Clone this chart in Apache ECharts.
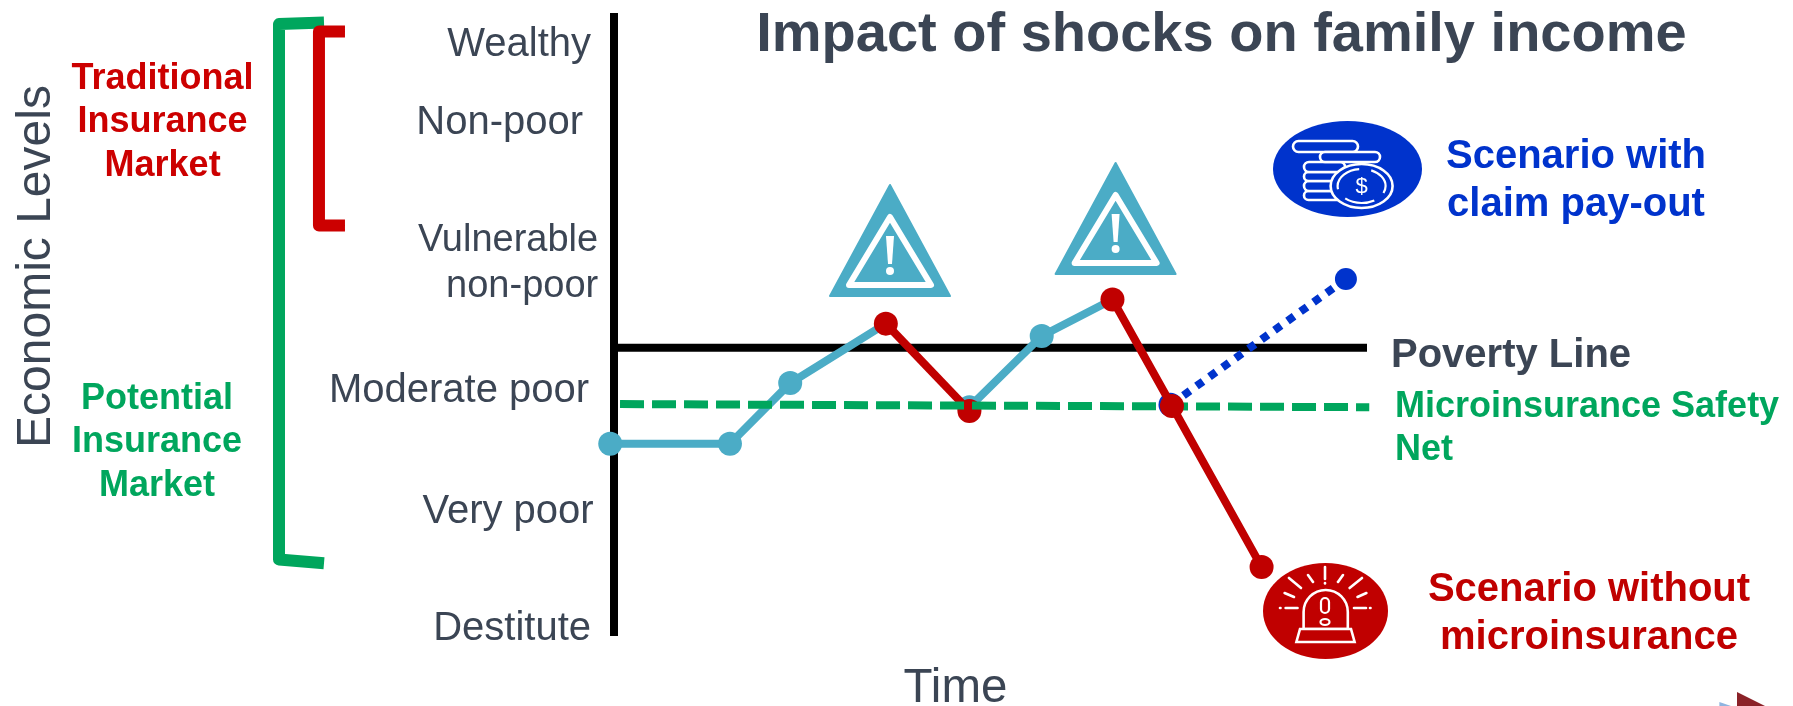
<!DOCTYPE html>
<html><head><meta charset="utf-8">
<style>html,body{margin:0;padding:0;background:#fff}#c{width:1793px;height:706px}</style>
<script src="https://cdn.jsdelivr.net/npm/echarts@6/dist/echarts.min.js"></script>
</head><body><div id="c"></div>
<script>
// Time (0-100) vs. economic level (0-100)
const beforeShock1 = [[-0.5,30.9],[15.4,30.9],[23.4,40.7],[36.1,50.3]];
const shock1 = [[36.1,50.3],[47.2,36.2]];
const beforeShock2 = [[47.2,36.8],[56.8,48.3],[66.2,54.2]];
const shock2 = [[66.2,54.2],[74.1,37],[86,11]];
const withPayout = [[73.9,37.2],[97.2,57.5]];
const povertyLine = [[0,46.4],[100,46.4]];
const safetyNet = [[0.8,37.3],[100.3,36.8]];
const levelNames = ['Wealthy','Non-poor','Vulnerable','non-poor','Moderate poor','Very poor','Destitute'];
const levelValues = [95.35,82.65,63.7,56.3,39.5,19.85,1.05];
const levelX = [-3.05,-4.1,-2.1,-2.1,-3.3,-2.7,-3.05];
const levelSize = [40,40,38,38,40,40,40];
// brackets use their own small grid: 0-100 across the strip left of the levels
const tradBracket = [[83.3,97.5],[54.4,97.5],[54.4,66.15],[83.3,66.15]];
const potentialBracket = [[60,98.95],[10,98.7],[10,12.2],[60,11.6]];

const DARK='#3b4554', TEAL='#4bacc6', RED='#c00000', BLUE='#0033cc', GREEN='#00a65d', TRAD='#cc0000';
const F='"Liberation Sans",Arial,sans-serif';
const DY=3.4;
const txt=(x,y,t,size,color,bold,align,lh,extra)=>Object.assign({type:'text',x,y:y+DY,silent:true,z:50,style:{text:t,font:(bold?'bold ':'')+size+'px '+F,fill:color,align:align||'center',verticalAlign:'middle',lineHeight:lh||size*1.2}},extra||{});
const seg=(pts)=>({type:'polyline',silent:true,z:60,shape:{points:pts},style:{stroke:'#fff',lineWidth:2.6,fill:null,lineCap:'round',lineJoin:'round'}});

function warning(dx,dy){
  return {type:'group',x:dx,y:dy,z:40,silent:true,children:[
    {type:'polygon',shape:{points:[[890,185],[950,296],[830,296]]},style:{fill:TEAL,stroke:TEAL,lineWidth:2,lineJoin:'round'}},
    {type:'polygon',shape:{points:[[890,217],[931,285],[849,285]]},style:{fill:TEAL,stroke:'#fff',lineWidth:6,lineJoin:'round'}},
    {type:'polygon',shape:{points:[[886,236],[894,236],[892,264],[888,264]]},style:{fill:'#fff'}},
    {type:'circle',shape:{cx:890,cy:271,r:4},style:{fill:'#fff'}}
  ]};
}
const coinBar=(x1,x2,y1,y2)=>({type:'rect',silent:true,z:60,shape:{x:x1,y:y1,width:x2-x1,height:y2-y1,r:(y2-y1)/2},style:{fill:BLUE,stroke:'#fff',lineWidth:2.6}});

const graphic=[
  warning(0,0),warning(225.6,-22),
  // pay-out icon
  {type:'ellipse',silent:true,z:45,shape:{cx:1347.5,cy:169,rx:74.5,ry:48},style:{fill:BLUE}},
  coinBar(1304,1345,191,200),coinBar(1304,1345,181,191),coinBar(1304,1345,172,181),coinBar(1304,1345,162,172),
  coinBar(1293,1358,141,152),coinBar(1320,1380,152,162),
  {type:'ellipse',silent:true,z:61,shape:{cx:1361.6,cy:186,rx:31,ry:22},style:{fill:BLUE,stroke:'#fff',lineWidth:2.6}},
  {type:'ellipse',silent:true,z:62,shape:{cx:1361.6,cy:186,rx:24,ry:17},style:{fill:BLUE,stroke:'#fff',lineWidth:2.2,lineDash:[30,12]}},
  txt(1361.6,184,'$',22,'#fff',false,'center',0,{z:63}),
  // alarm icon
  {type:'ellipse',silent:true,z:45,shape:{cx:1325.5,cy:611,rx:62.5,ry:48},style:{fill:RED}},
  {type:'rect',silent:true,z:60,shape:{x:1303.6,y:590,width:44.2,height:39,r:[22,22,0,0]},style:{fill:RED,stroke:'#fff',lineWidth:2.6}},
  {type:'polygon',silent:true,z:60,shape:{points:[[1300,629],[1351,629],[1354.6,642],[1296.4,642]]},style:{fill:RED,stroke:'#fff',lineWidth:2.6}},
  {type:'rect',silent:true,z:61,shape:{x:1321,y:598,width:8,height:15,r:4},style:{fill:RED,stroke:'#fff',lineWidth:2.2}},
  {type:'ellipse',silent:true,z:61,shape:{cx:1325,cy:622,rx:4.5,ry:3},style:{fill:RED,stroke:'#fff',lineWidth:2.2}},
  seg([[1325,567],[1325,579]]),seg([[1325,583],[1325,583.5]]),
  seg([[1289,578],[1301,588]]),seg([[1308,575],[1313,582]]),seg([[1338,582],[1343,575]]),seg([[1349.6,588],[1362,578]]),
  seg([[1284.6,593],[1294,597]]),seg([[1357.5,597],[1366.4,593]]),
  seg([[1285.6,608],[1297.5,608]]),seg([[1280,608],[1280.5,608]]),seg([[1354,608],[1366,608]]),seg([[1370,608],[1370.5,608]]),
  // texts
  txt(0,0,'Economic Levels',48,DARK,false,'center',0,{x:36.4,y:266.5,rotation:Math.PI/2}),
  txt(955.5,686,'Time',47.5,DARK,false),
  txt(162.6,119,'Traditional\nInsurance\nMarket',36,TRAD,true,'center',43.5),
  txt(157,439,'Potential\nInsurance\nMarket',36,GREEN,true,'center',43.5),
  txt(1576,178,'Scenario with\nclaim pay-out',40,BLUE,true,'center',48),
  txt(1589,611,'Scenario without\nmicroinsurance',40,RED,true,'center',48),
  txt(1391,353,'Poverty Line',40,DARK,true,'left'),
  txt(1395,425,'Microinsurance Safety\nNet',36,GREEN,true,'left',43.5),
  // corner decoration
  {type:'polygon',silent:true,shape:{points:[[1719.4,702],[1731,706],[1719.4,706]]},style:{fill:'#8fb4e0'}},
  {type:'polygon',silent:true,shape:{points:[[1737,692],[1765,706],[1737,706]]},style:{fill:'#8b2228'}}
];

const line=(name,data,color,z,extra)=>Object.assign({type:'line',name,data,clip:false,z,silent:true,animation:false,
  symbol:'circle',symbolSize:24,showSymbol:true,
  lineStyle:{color,width:8,cap:'butt',join:'round'},itemStyle:{color}},extra||{});
const plain=(name,data,color,w,z,dash,extra)=>line(name,data,color,z,Object.assign({symbol:'none',lineStyle:{color,width:w,type:dash||'solid',cap:'butt',join:'round'}},extra||{}));

const chart=echarts.init(document.getElementById('c'),null,{renderer:'canvas'});
chart.setOption({
  animation:false,backgroundColor:'#fff',
  title:{text:'Impact of shocks on family income',left:1216.4,top:31,textAlign:'center',textVerticalAlign:'middle',
    textStyle:{fontFamily:F,fontSize:56,fontWeight:'bold',color:DARK}},
  grid:[{left:614,top:13,width:753,height:623},{left:270,top:16,width:90,height:619}],
  xAxis:[{type:'value',min:0,max:100,show:false,gridIndex:0},{type:'value',min:0,max:100,show:false,gridIndex:1}],
  yAxis:[{type:'value',min:-0.16,max:100.48,gridIndex:0,splitLine:{show:false},axisTick:{show:false},axisLabel:{show:false},
    axisLine:{show:true,onZero:false,lineStyle:{color:'#000',width:8,cap:'butt'}}},
    {type:'value',min:0,max:100,gridIndex:1,show:false}],
  series:[
    plain('Poverty Line',povertyLine,'#000',8,3),
    plain('Potential Insurance Market',potentialBracket,GREEN,12,5,null,{xAxisIndex:1,yAxisIndex:1}),
    plain('Traditional Insurance Market',tradBracket,TRAD,12,6,null,{xAxisIndex:1,yAxisIndex:1}),
    line('Before shock 1',beforeShock1,TEAL,7,{symbolSize:(v,p)=>p.dataIndex===3?0:24}),
    line('Before shock 2',beforeShock2,TEAL,7,{symbolSize:(v,p)=>p.dataIndex===2?0:24}),
    line('Shock 1',shock1,RED,8),
    line('With claim pay-out',withPayout,BLUE,9,{symbolSize:(v,p)=>p.dataIndex===0?24:22,lineStyle:{color:BLUE,width:8,type:[8,8],cap:'butt'}}),
    plain('Microinsurance Safety Net',safetyNet,GREEN,8,10,[24,8]),
    line('Shock 2',shock2,RED,11),
    {type:'scatter',name:'Economic levels',clip:false,silent:true,symbolSize:0,z:20,itemStyle:{opacity:1},
      data:levelNames.map((n,i)=>({name:n,value:[levelX[i],levelValues[i]],label:{fontSize:levelSize[i]}})),
      label:{show:true,position:'left',distance:0,formatter:p=>p.name,fontFamily:F,fontSize:40,color:DARK,opacity:1}}
  ],
  graphic
});
</script></body></html>
